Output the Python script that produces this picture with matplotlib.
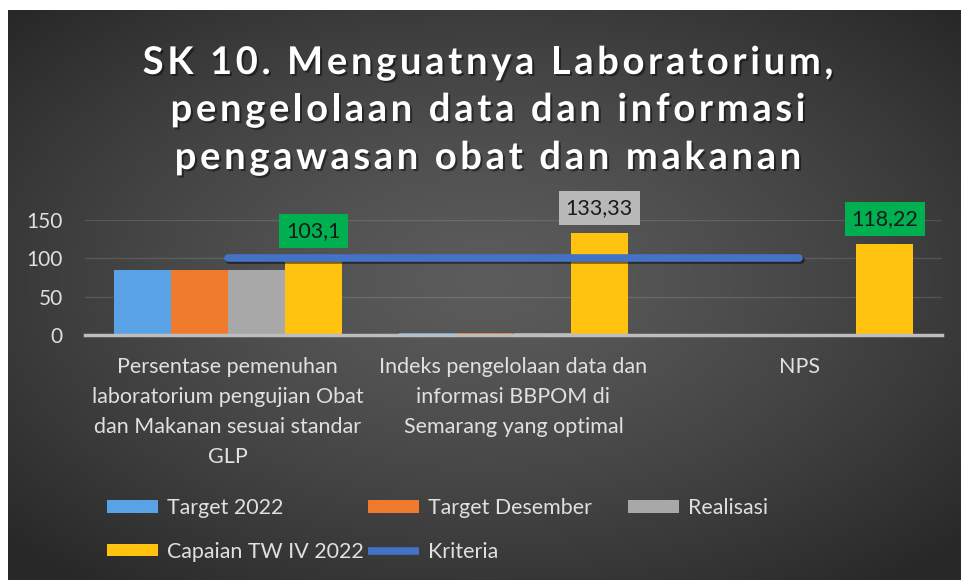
import numpy as np
import matplotlib
matplotlib.use("Agg")
import matplotlib.pyplot as plt
import matplotlib.patheffects as pe
from matplotlib.lines import Line2D

plt.rcParams['font.family'] = ['Lato', 'DejaVu Sans']

# ---- data ----
categories = [
    "Persentase pemenuhan\nlaboratorium pengujian Obat\ndan Makanan sesuai standar\nGLP",
    "Indeks pengelolaan data dan\ninformasi BBPOM di\nSemarang yang optimal",
    "NPS",
]
target_2022 = [85, 2, 0]
target_desember = [85, 2, 0]
realisasi = [85, 2, 0]
capaian_tw4 = [103.1, 133.33, 118.22]
kriteria = [100, 100, 100]
y_ticks = [0, 50, 100, 150]
title_lines = [
    "SK 10. Menguatnya Laboratorium,",
    "pengelolaan data dan informasi",
    "pengawasan obat dan makanan",
]

W, H = 962, 580
fig = plt.figure(figsize=(W / 100, H / 100), dpi=100)
fig.patch.set_facecolor("white")

# dark radial-gradient panel behind the chart
bg = fig.add_axes([8 / W, 0, (W - 8) / W, (H - 10) / H])
gx, gy = np.meshgrid(np.linspace(-1, 1, 400), np.linspace(-1, 1, 240))
r = np.sqrt(gx ** 2 + (gy + 0.05) ** 2)
shade = 0.36 - 0.20 * np.clip(r / 1.35, 0, 1) ** 1.3
bg.imshow(np.dstack([shade] * 3), aspect="auto", extent=[0, 1, 0, 1],
          interpolation="bilinear")
bg.set_axis_off()
bg.set_zorder(-10)

# plot area
ax = fig.add_axes([85 / W, (H - 335) / H, 857 / W, 115 / H])
ax.patch.set_alpha(0)

x = np.arange(len(categories))
bw = 0.2
series = [
    (target_2022, "Target 2022", "#5aa2e6"),
    (target_desember, "Target Desember", "#f07a2c"),
    (realisasi, "Realisasi", "#a8a8a8"),
    (capaian_tw4, "Capaian TW IV 2022", "#ffc20e"),
]
bar_handles = []
for i, (vals, name, col) in enumerate(series):
    b = ax.bar(x + (i - 1.5) * bw, vals, bw, color=col, label=name, zorder=3)
    bar_handles.append(b)

line_color = "#4472c4"
ax.plot(x, kriteria, color=line_color, lw=5.5, solid_capstyle="round",
        zorder=5, label="Kriteria",
        path_effects=[pe.SimpleLineShadow(offset=(1, -1.5), shadow_color="black", alpha=0.5),
                      pe.Normal()])
line_handle = Line2D([], [], color=line_color, lw=5.5, solid_capstyle="butt")

# data labels on the achievement bars
label_boxes = ["#00b050", "#b8b8b8", "#00b050"]
for xi, v, fc in zip(x + 1.5 * bw, capaian_tw4, label_boxes):
    ax.annotate(f"{v:g}".replace(".", ","), xy=(xi, v), xytext=(0, 18),
                textcoords="offset points", ha="center", va="center",
                fontsize=15.5, color="#1a1a1a", zorder=6, annotation_clip=False,
                bbox=dict(boxstyle="square,pad=0.32", fc=fc, ec="none"))

ax.set_xlim(-0.5, len(categories) - 0.5)
ax.set_ylim(0, 150)
ax.set_yticks(y_ticks)
ax.set_xticks(x)
ax.set_xticklabels(categories, fontsize=15.5, color="#e0e0e0", linespacing=1.62)
ax.tick_params(axis="y", length=0, pad=16, labelsize=15, labelcolor="#e0e0e0")
ax.tick_params(axis="x", length=0, pad=16)
for lbl in ax.get_yticklabels():
    lbl.set_horizontalalignment("right")
ax.grid(axis="y", color="#ffffff", alpha=0.12, lw=1, zorder=0)
for s in ["top", "right", "left"]:
    ax.spines[s].set_visible(False)
ax.spines["bottom"].set_color("#bdbdbd")
ax.spines["bottom"].set_linewidth(2.5)
ax.spines["bottom"].set_zorder(4)

# title drawn glyph by glyph with extra tracking
renderer = fig.canvas.get_renderer()
title_fs = 27.5
tracking = 3.6          # extra pixels between glyphs
title_cx = 488
baselines = [74, 121, 169]
shadow = [pe.SimplePatchShadow(offset=(1.5, -1.5), shadow_rgbFace="black", alpha=0.45),
          pe.Normal()]


def text_width(s):
    t = fig.text(0, 0, s, fontsize=title_fs, fontweight="bold")
    w = t.get_window_extent(renderer).width
    t.remove()
    return w


for line_txt, base in zip(title_lines, baselines):
    total = text_width(line_txt) + tracking * (len(line_txt) - 1)
    x0 = title_cx - total / 2
    for k, ch in enumerate(line_txt):
        if ch == " ":
            continue
        left = text_width(line_txt[:k + 1]) - text_width(ch) + tracking * k
        fig.text((x0 + left) / W, 1 - base / H, ch, fontsize=title_fs,
                 fontweight="bold", color="white", ha="left", va="baseline",
                 path_effects=shadow)

# legend laid out in three fixed columns
leg_kw = dict(loc="upper left", frameon=False, fontsize=15.4, labelcolor="#e0e0e0",
              handlelength=2.4, handleheight=0.55, handletextpad=0.42,
              labelspacing=1.1, borderpad=0, borderaxespad=0)
cols = [
    ([bar_handles[0], bar_handles[3]], ["Target 2022", "Capaian TW IV 2022"], 107),
    ([bar_handles[1], line_handle], ["Target Desember", "Kriteria"], 368),
    ([bar_handles[2]], ["Realisasi"], 628),
]
for hs, ls, lx in cols:
    fig.legend(hs, ls, bbox_to_anchor=(lx / W, 1 - 498 / H), **leg_kw)

fig.savefig("out.png", dpi=100)
